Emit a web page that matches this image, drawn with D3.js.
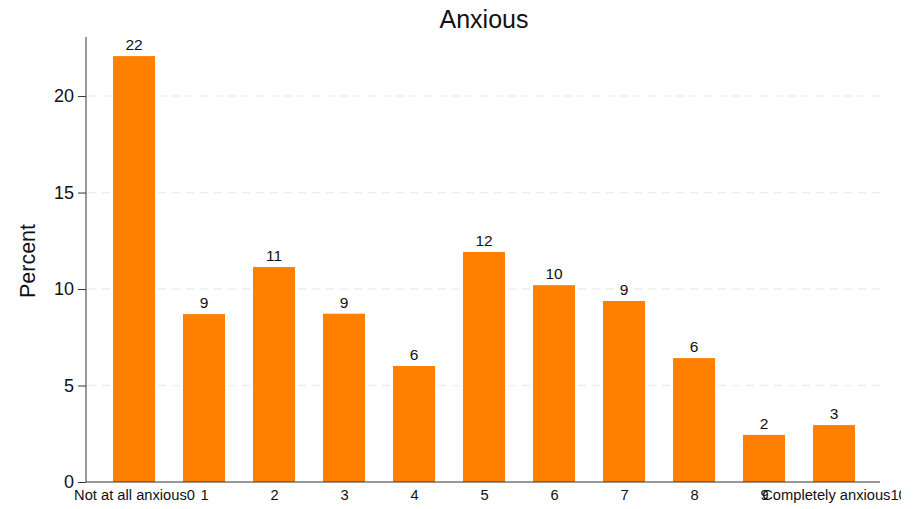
<!DOCTYPE html>
<html>
<head>
<meta charset="utf-8">
<script src="https://cdn.jsdelivr.net/npm/d3@7"></script>
<style>
  body { margin: 0; background: #fff; }
  svg { font-family: "Liberation Sans", Arial, sans-serif; }
</style>
</head>
<body>
<svg id="chart" width="916" height="509"></svg>
<script>
// Data
const categories = [0, 1, 2, 3, 4, 5, 6, 7, 8, 9, 10];
const tickLabels = ["Not at all anxious0", "1", "2", "3", "4", "5", "6", "7", "8", "9", "Completely anxious10"];
const percents = [22.07, 8.70, 11.14, 8.72, 6.01, 11.92, 10.20, 9.38, 6.42, 2.44, 2.95];
const yTicks = [0, 5, 10, 15, 20];

const svg = d3.select("#chart");

// Plot area edges
const plot = { left: 86, right: 880, top: 37, bottom: 482 };

const xScale = d3.scaleLinear()
  .domain([-0.686, 10.657])
  .range([plot.left, plot.right]);

const yScale = d3.scaleLinear()
  .domain([0, 23.06])
  .range([plot.bottom, plot.top]);

const barWidth = (xScale(1) - xScale(0)) * 0.6;

// clip so the last label is cut like in the original
svg.append("defs").append("clipPath")
  .attr("id", "clip")
  .append("rect")
  .attr("x", 0).attr("y", 0).attr("width", 901).attr("height", 509);

// Gridlines
svg.append("g")
  .selectAll("line")
  .data(yTicks.filter(d => d > 0))
  .enter()
  .append("line")
  .attr("x1", plot.left + 2)
  .attr("x2", plot.right)
  .attr("y1", d => yScale(d))
  .attr("y2", d => yScale(d))
  .attr("stroke", "#eeeeee")
  .attr("stroke-width", 1.5)
  .attr("stroke-dasharray", "8,6");

// Bars
svg.append("g")
  .selectAll("rect")
  .data(categories)
  .enter()
  .append("rect")
  .attr("x", d => xScale(d) - barWidth / 2)
  .attr("y", (d, i) => yScale(percents[i]))
  .attr("width", barWidth)
  .attr("height", (d, i) => yScale(0) - yScale(percents[i]))
  .attr("fill", "#ff7f00");

// Bar labels
svg.append("g")
  .selectAll("text")
  .data(categories)
  .enter()
  .append("text")
  .attr("x", d => xScale(d))
  .attr("y", (d, i) => yScale(percents[i]) - 6)
  .attr("text-anchor", "middle")
  .attr("font-size", "15.5px")
  .attr("fill", "#111")
  .text((d, i) => Math.round(percents[i]));

// Y axis
const yAxis = d3.axisLeft(yScale)
  .tickValues(yTicks)
  .tickSize(8)
  .tickPadding(4)
  .tickFormat(d3.format("d"));

const yG = svg.append("g")
  .attr("transform", `translate(${plot.left}, 0)`)
  .call(yAxis);
yG.select(".domain").attr("d", `M0,${plot.top}V${plot.bottom}`).attr("stroke", "#333");
yG.selectAll(".tick line").attr("stroke", "#333");
yG.selectAll(".tick text").attr("font-size", "18px").attr("fill", "#111")
  .attr("font-family", "Liberation Sans, Arial, sans-serif");

// X axis
const xAxis = d3.axisBottom(xScale)
  .tickValues(categories)
  .tickSize(0)
  .tickPadding(8)
  .tickFormat((d, i) => tickLabels[i]);

const xG = svg.append("g")
  .attr("clip-path", "url(#clip)")
  .append("g")
  .attr("transform", `translate(0, ${plot.bottom})`)
  .call(xAxis);
xG.select(".domain").attr("d", `M${plot.left},0H${plot.right}`).attr("stroke", "#333");
xG.selectAll(".tick text").attr("font-size", "14.7px").attr("fill", "#111")
  .attr("font-family", "Liberation Sans, Arial, sans-serif");

// Title
svg.append("text")
  .attr("x", 484)
  .attr("y", 28)
  .attr("text-anchor", "middle")
  .attr("font-size", "25px")
  .attr("fill", "#111")
  .text("Anxious");

// Y axis label
svg.append("text")
  .attr("transform", "rotate(-90)")
  .attr("x", -261)
  .attr("y", 35)
  .attr("text-anchor", "middle")
  .attr("font-size", "21.5px")
  .attr("fill", "#111")
  .text("Percent");
</script>
</body>
</html>
